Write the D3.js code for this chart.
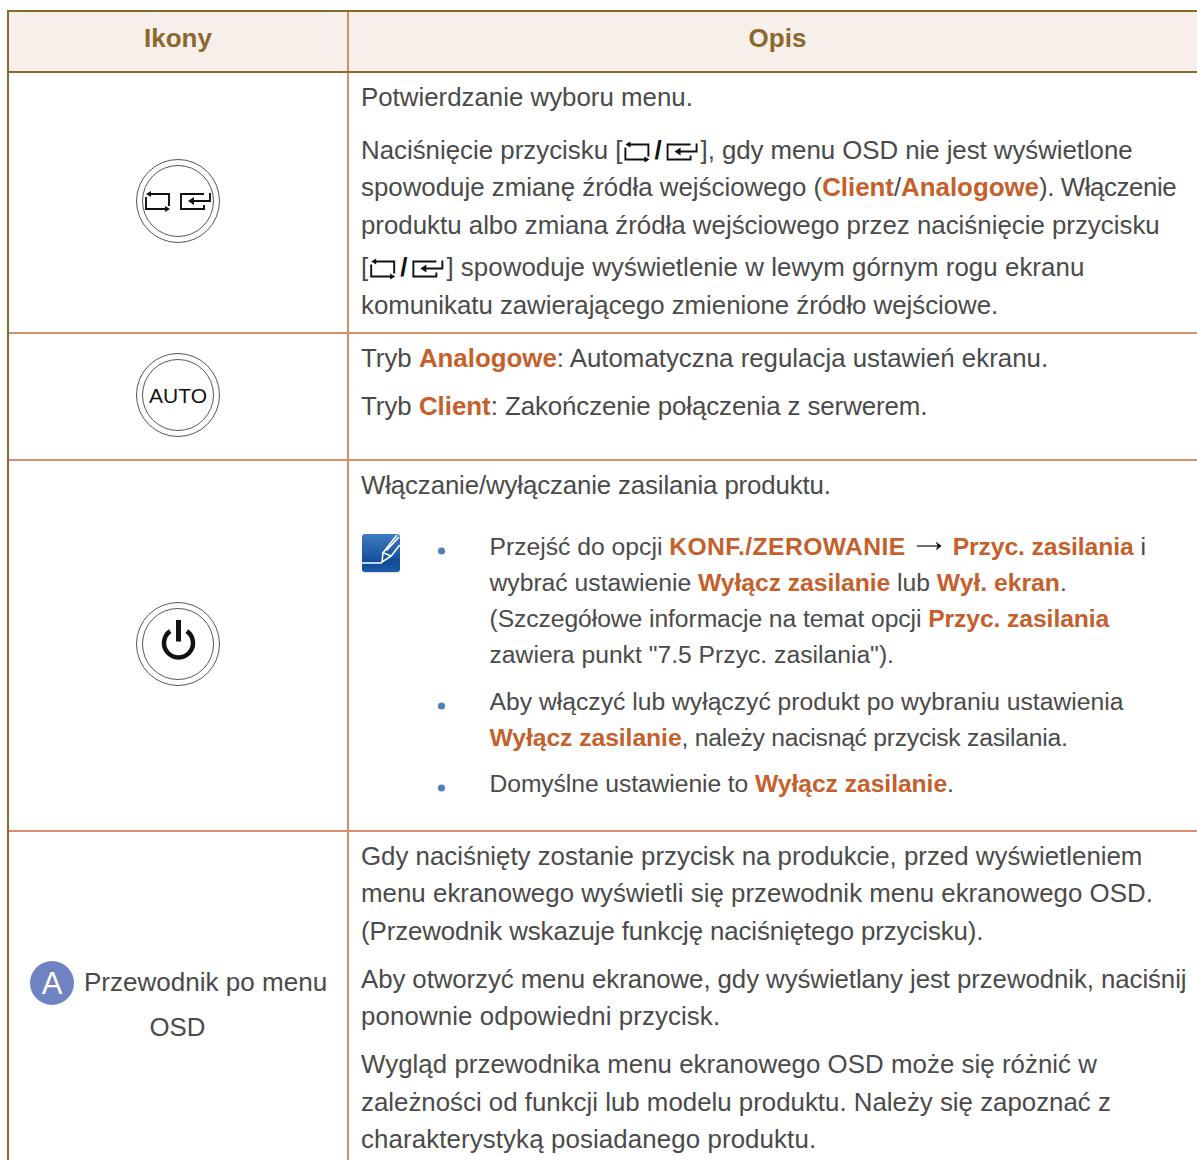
<!DOCTYPE html>
<html>
<head>
<meta charset="utf-8">
<script src="https://cdn.jsdelivr.net/npm/d3@7"></script>
<style>
  html, body { margin: 0; padding: 0; background: #fff; overflow: hidden; }
  text { white-space: pre; }
</style>
</head>
<body>
<script>
// table text. runs: plain string = normal, {b:..} = bold orange, {i:..} = inline icon
var headers = ["Ikony", "Opis"];

var row1Lines = [
  ["Potwierdzanie wyboru menu."],
  ["Naciśnięcie przycisku [", {i: "source"}, {i: "slash"}, {i: "enter"}, "], gdy menu OSD nie jest wyświetlone"],
  ["spowoduje zmianę źródła wejściowego (", {b: "Client"}, "/", {b: "Analogowe"}, "). Włączenie"],
  ["produktu albo zmiana źródła wejściowego przez naciśnięcie przycisku"],
  ["[", {i: "source"}, {i: "slash"}, {i: "enter"}, "] spowoduje wyświetlenie w lewym górnym rogu ekranu"],
  ["komunikatu zawierającego zmienione źródło wejściowe."]
];
var row2Lines = [
  ["Tryb ", {b: "Analogowe"}, ": Automatyczna regulacja ustawień ekranu."],
  ["Tryb ", {b: "Client"}, ": Zakończenie połączenia z serwerem."]
];
var row3Lines = [
  ["Włączanie/wyłączanie zasilania produktu."]
];
var noteLines = [
  ["Przejść do opcji ", {b: "KONF./ZEROWANIE"}, {i: "arrow"}, {b: "Przyc. zasilania"}, " i"],
  ["wybrać ustawienie ", {b: "Wyłącz zasilanie"}, " lub ", {b: "Wył. ekran"}, "."],
  ["(Szczegółowe informacje na temat opcji ", {b: "Przyc. zasilania"}],
  ["zawiera punkt \"7.5 Przyc. zasilania\")."],
  ["Aby włączyć lub wyłączyć produkt po wybraniu ustawienia"],
  [{b: "Wyłącz zasilanie"}, ", należy nacisnąć przycisk zasilania."],
  ["Domyślne ustawienie to ", {b: "Wyłącz zasilanie"}, "."]
];
var noteBullets = [0, 4, 6];
var row4Lines = [
  ["Gdy naciśnięty zostanie przycisk na produkcie, przed wyświetleniem"],
  ["menu ekranowego wyświetli się przewodnik menu ekranowego OSD."],
  ["(Przewodnik wskazuje funkcję naciśniętego przycisku)."],
  ["Aby otworzyć menu ekranowe, gdy wyświetlany jest przewodnik, naciśnij"],
  ["ponownie odpowiedni przycisk."],
  ["Wygląd przewodnika menu ekranowego OSD może się różnić w"],
  ["zależności od funkcji lub modelu produktu. Należy się zapoznać z"],
  ["charakterystyką posiadanego produktu."]
];
var guideLabel = ["Przewodnik po menu", "OSD"];

// layout
var W = 1197, H = 1160;
var colX = [8, 348];
var rowY = [11, 72, 333, 460, 831];
var textX = 361, noteX = 489.5;
var font = "'Liberation Sans', sans-serif";
var fs = 25.85, noteFs = 24.7;
var c = {edge: "#8d682e", inner: "#d4906a", head: "#f7efea", ink: "#4a4a4a", bold: "#c55f2b"};
// the original's spacing differs a little from line to line
var track = {
  "). Włączenie": -0.4,
  "Aby otworzyć menu ekranowe, gdy wyświetlany jest przewodnik, naciśnij": -0.09,
  "Włączanie/wyłączanie zasilania produktu.": -0.14,
  ": Zakończenie połączenia z serwerem.": -0.08,
  "KONF./ZEROWANIE": 0.4,
  "], gdy menu OSD nie jest wyświetlone": -0.05,
  "] spowoduje wyświetlenie w lewym górnym rogu ekranu": 0.06,
  "komunikatu zawierającego zmienione źródło wejściowe.": -0.04,
  "(Przewodnik wskazuje funkcję naciśniętego przycisku).": -0.1,
  "menu ekranowego wyświetli się przewodnik menu ekranowego OSD.": 0.03,
  "charakterystyką posiadanego produktu.": 0.11,
  "ponownie odpowiedni przycisk.": 0.1,
  "Wygląd przewodnika menu ekranowego OSD może się różnić w": 0.04,
  ", należy nacisnąć przycisk zasilania.": -0.25,
  "(Szczegółowe informacje na temat opcji ": -0.08,
  "Domyślne ustawienie to ": -0.09,
  "Przyc. zasilania": -0.1,
  "Wyłącz zasilanie": -0.06
};

var svg = d3.select("body").append("svg").attr("width", W).attr("height", H)
  .style("display", "block").style("font-family", font);

var defs = svg.append("defs");
var grad = defs.append("linearGradient").attr("id", "noteGrad").attr("x1", 0).attr("x2", 0).attr("y1", 0).attr("y2", 1);
grad.append("stop").attr("offset", 0).attr("stop-color", "#3f7cc0");
grad.append("stop").attr("offset", 0.75).attr("stop-color", "#114b97");
grad.append("stop").attr("offset", 1).attr("stop-color", "#1d5ca8");

// header
svg.append("rect").attr("x", colX[0]).attr("y", rowY[0]).attr("width", W - colX[0]).attr("height", rowY[1] - rowY[0]).attr("fill", c.head);
svg.selectAll("text.head").data(headers).enter().append("text").attr("class", "head")
  .attr("x", function (d, i) { return i ? (colX[1] + W + 10) / 2 : (colX[0] + colX[1]) / 2; })
  .attr("y", 47).attr("text-anchor", "middle").attr("font-size", 26).attr("font-weight", 700)
  .attr("fill", c.edge).text(function (d) { return d; });

// rules
svg.selectAll("line.row").data(rowY.slice(2)).enter().append("line").attr("class", "row")
  .attr("x1", colX[0]).attr("x2", W).attr("y1", function (d) { return d; }).attr("y2", function (d) { return d; })
  .attr("stroke", c.inner).attr("stroke-width", 2);
svg.append("line").attr("x1", colX[1]).attr("x2", colX[1]).attr("y1", rowY[0]).attr("y2", H).attr("stroke", c.inner).attr("stroke-width", 2);
[rowY[0], rowY[1]].forEach(function (y) {
  svg.append("line").attr("x1", 7).attr("x2", W).attr("y1", y).attr("y2", y).attr("stroke", c.edge).attr("stroke-width", 2);
});
svg.append("line").attr("x1", colX[0]).attr("x2", colX[0]).attr("y1", rowY[0] - 1).attr("y2", H).attr("stroke", c.edge).attr("stroke-width", 2);

// inline icons, drawn from (x, baseline)
function sourceIcon(g, x, y) {
  var o = g.append("g").attr("transform", "translate(" + x + "," + y + ")");
  o.append("path").attr("fill", "none").attr("stroke", "#111").attr("stroke-width", 1.9)
    .attr("d", "M2,-15H23V-3M22,0H0V-12");
  o.append("path").attr("fill", "#111").attr("d", "M0,-15L5,-18V-12ZM24,0L19,-3V3Z");
}
function enterIcon(g, x, y) {
  var o = g.append("g").attr("transform", "translate(" + x + "," + y + ")");
  o.append("path").attr("fill", "none").attr("stroke", "#111").attr("stroke-width", 1.9)
    .attr("d", "M23,-15H0V0H23V-4M29,-16V-8H10");
  o.append("path").attr("fill", "#111").attr("d", "M7,-8L13,-12V-4Z");
}
function arrowIcon(g, x, y) {
  var o = g.append("g").attr("transform", "translate(" + x + "," + y + ")");
  o.append("line").attr("x2", 24).attr("y1", -9).attr("y2", -9).attr("stroke", "#111").attr("stroke-width", 1.2);
  o.append("path").attr("fill", "#111").attr("d", "M25,-9L19,-13.5L21,-9L19,-4.5Z");
}

function drawLine(g, runs, x, y, size) {
  var cur = x;
  runs.forEach(function (r) {
    if (r.i === "source") { sourceIcon(g, cur + 3, y + 0.5); cur += 32; return; }
    if (r.i === "enter") { enterIcon(g, cur + 6, y + 0.5); cur += 39; return; }
    if (r.i === "arrow") { arrowIcon(g, cur + 11, y); cur += 47; return; }
    var slash = r.i === "slash";
    var bold = typeof r !== "string" && !slash;
    var str = slash ? "/" : (bold ? r.b : r);
    var t = g.append("text").attr("x", cur).attr("y", y).attr("font-size", size)
      .attr("font-weight", bold || slash ? 700 : 400).attr("fill", slash ? "#111" : (bold ? c.bold : c.ink))
      .attr("letter-spacing", track[str] || null)
      .text(str);
    cur += t.node().getComputedTextLength();
  });
}

var body = svg.append("g");
var row1Y = [106, 159, 196, 234, 276, 314];
var row2Y = [367, 415];
var row3Y = [494];
var row4Y = [865, 902, 940, 988, 1025, 1073, 1111, 1148];
var noteY = [555, 591, 627, 663, 710, 746, 792];
row1Lines.forEach(function (l, i) { drawLine(body, l, textX, row1Y[i], fs); });
row2Lines.forEach(function (l, i) { drawLine(body, l, textX, row2Y[i], fs); });
row3Lines.forEach(function (l, i) { drawLine(body, l, textX, row3Y[i], fs); });
row4Lines.forEach(function (l, i) { drawLine(body, l, textX, row4Y[i], fs); });
noteLines.forEach(function (l, i) { drawLine(body, l, noteX, noteY[i], noteFs); });
noteBullets.forEach(function (i) {
  body.append("circle").attr("cx", 441.5).attr("cy", noteY[i] - 4).attr("r", 3.6).attr("fill", "#4f81bd");
});

// note icon
var note = body.append("g").attr("transform", "translate(362,534)");
note.append("rect").attr("y", 1.5).attr("width", 38).attr("height", 38).attr("rx", 3).attr("fill", "#ccc").attr("opacity", 0.5);
note.append("rect").attr("width", 38).attr("height", 38).attr("rx", 3).attr("fill", "url(#noteGrad)");
note.append("path").attr("fill", "none").attr("stroke", "#fff").attr("stroke-width", 1.6)
  .attr("d", "M0,29H19L20,28L21,18.7L35,1M20,28L29.3,22L37.7,11M21,18.7L29.3,22M24.5,16.5L37,3");

// round buttons
function button(cy) {
  var g = svg.append("g").attr("transform", "translate(178," + cy + ")");
  g.append("circle").attr("r", 41.5).attr("fill", "none").attr("stroke", "#555").attr("stroke-width", 1);
  g.append("circle").attr("r", 35.5).attr("fill", "none").attr("stroke", "#555").attr("stroke-width", 1);
  return g;
}
var b1 = button(201);
sourceIcon(b1, -32, 8);
enterIcon(b1, 3, 8);
button(395).append("text").attr("y", 8).attr("text-anchor", "middle").attr("font-size", 21).attr("fill", "#111").text("AUTO");
var b3 = button(644);
b3.append("path").attr("fill", "none").attr("stroke", "#111").attr("stroke-width", 4.5).attr("d", "M-7.8,-12.9A14.5,14.5 0 1 0 8.8,-12.9");
b3.append("line").attr("x1", 0.5).attr("x2", 0.5).attr("y1", -24).attr("y2", -2.5).attr("stroke", "#111").attr("stroke-width", 5);

// guide label
svg.append("circle").attr("cx", 52).attr("cy", 983).attr("r", 22).attr("fill", "#6f82c2");
svg.append("text").attr("x", 52).attr("y", 994).attr("text-anchor", "middle").attr("font-size", 31).attr("fill", "#fff").text("A");
svg.append("text").attr("x", 84).attr("y", 991).attr("font-size", 26.05).attr("fill", c.ink).text(guideLabel[0]);
svg.append("text").attr("x", 177.5).attr("y", 1036).attr("text-anchor", "middle").attr("font-size", fs).attr("fill", c.ink).text(guideLabel[1]);
</script>
</body>
</html>
